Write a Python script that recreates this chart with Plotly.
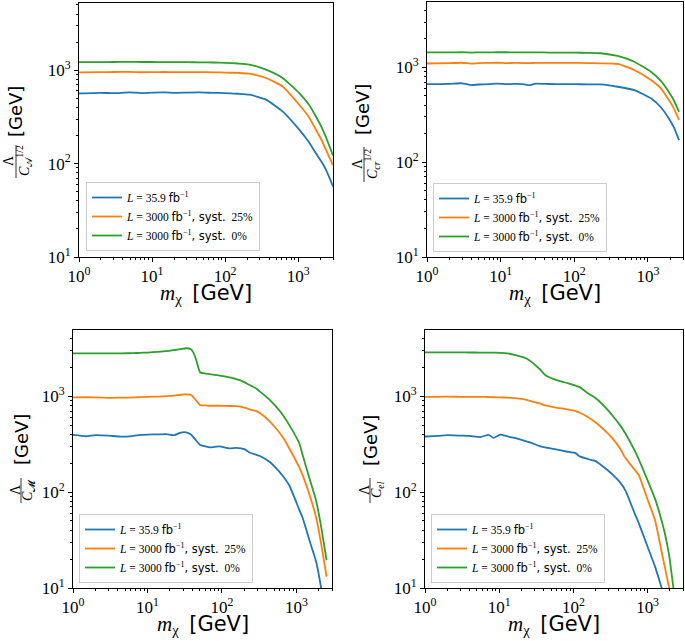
import math
import plotly.graph_objects as go

# ---------------- data ----------------
LEGEND_LABELS = [
    '<i>L</i> = 35.9 <span style="font-family:DejaVu Sans">fb</span><sup>−1</sup>',
    '<i>L</i> = 3000 <span style="font-family:DejaVu Sans">fb</span><sup>−1</sup><span style="font-family:DejaVu Sans">, syst.</span>  25%',
    '<i>L</i> = 3000 <span style="font-family:DejaVu Sans">fb</span><sup>−1</sup><span style="font-family:DejaVu Sans">, syst.</span>  0%',
]
COLORS = ["#1f77b4", "#ff7f0e", "#2ca02c"]

# panel A (top left)
A_x = [1, 2, 3, 5, 7, 10, 15, 20, 30, 45, 70, 100, 150, 215, 363, 612, 1035, 1400, 1750, 2100, 2400, 3000]
A_blue = [565, 572, 568, 580, 570, 575, 578, 572, 576, 578, 572, 570, 560, 547, 484, 363, 231, 170, 129, 104, 86, 57]
A_orange = [950, 955, 958, 960, 952, 955, 958, 955, 956, 955, 950, 945, 935, 918, 826, 671, 427, 315, 231, 178, 141, 96]
A_green = [1220, 1222, 1225, 1228, 1225, 1225, 1222, 1220, 1220, 1216, 1210, 1200, 1180, 1150, 1013, 826, 570, 430, 320, 245, 192, 122]

# panel cr (top right)
CR_x = [1, 2, 3, 4, 5, 7, 9, 12, 15, 20, 25, 30, 45, 70, 100, 150, 229, 387, 653, 1100, 1500, 1860, 2250, 2650]
CR_blue = [665, 670, 680, 650, 660, 665, 675, 665, 670, 665, 650, 675, 668, 665, 665, 663, 661, 625, 576, 472, 380, 302, 235, 171]
CR_orange = [1100, 1110, 1120, 1095, 1110, 1115, 1120, 1110, 1115, 1112, 1110, 1115, 1115, 1115, 1118, 1110, 1105, 1087, 940, 736, 600, 472, 370, 279]
CR_green = [1440, 1440, 1445, 1435, 1440, 1440, 1445, 1445, 1440, 1440, 1440, 1440, 1435, 1435, 1430, 1425, 1410, 1320, 1148, 900, 720, 575, 450, 340]

# panel M (bottom left)
M_x = [1, 1.5, 2, 3, 4.5, 6.5, 8, 10, 14, 18, 23, 28, 33, 38, 41, 45, 51, 60, 68, 84, 93, 127, 156, 200,
       234, 288, 318, 434, 533, 653, 803, 1094, 1211, 1490, 1830, 2130, 2537]
M_blue = [395, 382, 393, 388, 378, 386, 395, 398, 400, 402, 392, 418, 420, 400, 377, 345, 309, 300, 292, 298, 300, 285, 289, 280,
          259, 245, 239, 207, 178, 148, 117, 65, 54, 31.6, 19, 10.3, 4]
M_orange = [970, 975, 970, 962, 965, 970, 978, 985, 990, 1000, 1015, 1035, 1042, 1030, 984, 900, 806, 800, 795, 795, 795, 790, 788, 760,
            730, 698, 670, 550, 460, 375, 285, 180, 150, 95, 55, 30, 13.1]
M_green = [2790, 2790, 2795, 2800, 2800, 2810, 2830, 2850, 2900, 2950, 3030, 3100, 3160, 3100, 2880, 2400, 1766, 1720, 1700, 1660, 1640, 1570, 1503, 1400,
           1310, 1200, 1130, 920, 777, 640, 499, 321, 243, 140, 82, 45, 19.5]

# panel el (bottom right)
EL_x = [1, 1.5, 2, 3, 4, 5.6, 7.2, 8.4, 10.3, 13, 16, 21, 26, 35, 43, 58, 80, 107, 120, 160, 200, 300, 330, 420,
        500, 675, 760, 1020, 1260, 1550, 1700, 1950, 2230, 2600]
EL_blue = [380, 385, 392, 388, 385, 375, 395, 367, 397, 380, 367, 347, 330, 302, 290, 279, 265, 255, 237, 220, 210, 165, 155, 128,
           105, 59, 47.5, 25.8, 16.7, 10, 8, 5.5, 3.5, 2]
EL_orange = [984, 985, 990, 985, 985, 984, 980, 975, 970, 965, 955, 930, 895, 840, 795, 760, 731, 700, 675, 600, 531, 400, 370, 290,
             228, 170, 150, 80, 51, 23.6, 16.7, 10, 5.5, 3]
EL_green = [2860, 2860, 2860, 2858, 2855, 2850, 2845, 2840, 2830, 2790, 2700, 2550, 2345, 1920, 1634, 1480, 1380, 1285, 1250, 1060, 950, 700, 640, 505,
            410, 267, 220, 128, 85, 50, 37.7, 22, 10, 4]

TICK_VALS = [1, 10, 100, 1000]
TICK_TEXT = ["10<sup>0</sup>", "10<sup>1</sup>", "10<sup>2</sup>", "10<sup>3</sup>"]
Y_TICK_VALS = [10, 100, 1000]
Y_TICK_TEXT = ["10<sup>1</sup>", "10<sup>2</sup>", "10<sup>3</sup>"]
DENOMS = [
    "<i>C</i><sub>𝒜</sub><sup>1/2</sup>",
    "<i>C</i><sub><i>cr</i></sub><sup>1/2</sup>",
    "<i>C</i><sub>𝓜</sub>",
    "<i>C</i><sub><i>el</i></sub>",
]

# ---------------- layout geometry (pixels) ----------------
W, H = 685, 641
SERIF = "Liberation Serif"
SANS = "DejaVu Sans"

panels = [
    dict(x=A_x, ys=[A_blue, A_orange, A_green], box=(79, 333, 3, 257), ytop=3.72,
         gev=(15, 112), frac=(161, 145, 178), fx=(9, 16, 24), leg=(86, 251)),
    dict(x=CR_x, ys=[CR_blue, CR_orange, CR_green], box=(427, 683, 2, 257), ytop=3.69,
         gev=(363, 110), frac=(164, 147, 182), fx=(357, 364, 372), leg=(433, 252)),
    dict(x=M_x, ys=[M_blue, M_orange, M_green], box=(73, 332, 330, 588), ytop=3.69,
         gev=(21, 440), frac=(490, 478, 503), fx=(15, 21, 28), leg=(79, 583)),
    dict(x=EL_x, ys=[EL_blue, EL_orange, EL_green], box=(425, 683, 330, 588), ytop=3.69,
         gev=(370, 441), frac=(490, 478, 503), fx=(364, 370, 377), leg=(431, 583)),
]


def px(p):
    return p / W


def py(p):
    return 1 - p / H


minor_x = [m * 10 ** d for d in range(0, 4) for m in range(2, 10) if m * 10 ** d < 3500]
minor_y = [m * 10 ** d for d in range(1, 4) for m in range(2, 10) if m * 10 ** d < 6000]

fig = go.Figure()
layout = dict(template="none", width=W, height=H, margin=dict(l=0, r=0, t=0, b=0, pad=0, autoexpand=False),
              paper_bgcolor="white", plot_bgcolor="white", showlegend=True)
annotations = []
shapes = []

for i, p in enumerate(panels):
    n = i + 1
    s = "" if n == 1 else str(n)
    l, r, t, b = p["box"]
    for k in range(3):
        fig.add_trace(go.Scatter(
            x=p["x"], y=p["ys"][k], mode="lines", name=LEGEND_LABELS[k],
            line=dict(color=COLORS[k], width=1.8, shape="spline", smoothing=0.5),
            xaxis="x" + s, yaxis="y" + s, legend="legend" + s,
        ))
    common = dict(type="log", showline=True, linecolor="black", linewidth=1, mirror=True,
                  showgrid=False, zeroline=False, ticks="outside", ticklen=4, tickwidth=0.8,
                  tickcolor="black", automargin=False,
                  tickfont=dict(family=SERIF, size=17, color="black"))
    layout["xaxis" + s] = dict(common, domain=[px(l), px(r)], range=[0, math.log10(3000)],
                               anchor="y" + s, tickvals=TICK_VALS, ticktext=TICK_TEXT,
                               minor=dict(tickvals=minor_x, ticks="outside", ticklen=2,
                                          tickwidth=0.6, tickcolor="black"))
    layout["yaxis" + s] = dict(common, domain=[py(b), py(t)], range=[1, p["ytop"]],
                               anchor="x" + s, tickvals=Y_TICK_VALS, ticktext=Y_TICK_TEXT,
                               minor=dict(tickvals=minor_y, ticks="outside", ticklen=2,
                                          tickwidth=0.6, tickcolor="black"))
    layout["legend" + s] = dict(x=px(p["leg"][0]), y=py(p["leg"][1]), xanchor="left", yanchor="bottom",
                                xref="paper", yref="paper",
                                bgcolor="white", bordercolor="#cccccc", borderwidth=1,
                                font=dict(family=SERIF, size=11.5, color="black"),
                                itemwidth=30, tracegroupgap=0)
    # x-axis title
    annotations.append(dict(
        text='<i>m</i><sub>χ</sub>  <span style="font-family:DejaVu Sans">[GeV]</span>',
        x=px((l + r) / 2), y=py(b + 37), xref="paper", yref="paper", showarrow=False,
        xanchor="center", yanchor="middle", font=dict(family=SERIF, size=21, color="black")))
    # y-axis title: [GeV]
    gx, gy = p["gev"]
    annotations.append(dict(text="[GeV]", x=px(gx), y=py(gy), xref="paper", yref="paper",
                            showarrow=False, textangle=-90, xanchor="center", yanchor="middle",
                            font=dict(family=SANS, size=18, color="black")))
    fc, f1, f2 = p["frac"]
    nx, bx, dx = p["fx"]
    annotations.append(dict(text="Λ", x=px(nx), y=py(fc), xref="paper", yref="paper",
                            showarrow=False, textangle=-90, xanchor="center", yanchor="middle",
                            font=dict(family=SERIF, size=14, color="black")))
    annotations.append(dict(text=DENOMS[i], x=px(dx), y=py(fc), xref="paper", yref="paper",
                            showarrow=False, textangle=-90, xanchor="center", yanchor="middle",
                            font=dict(family=SERIF, size=14, color="black")))
    shapes.append(dict(type="line", xref="paper", yref="paper", x0=px(bx), x1=px(bx),
                       y0=py(f1), y1=py(f2), line=dict(color="black", width=0.8)))

layout["annotations"] = annotations
layout["shapes"] = shapes
fig.update_layout(**layout)
fig.write_html("out.html", config={"displayModeBar": False},
               post_script="document.body.style.margin='0px';document.body.style.overflow='hidden';")
